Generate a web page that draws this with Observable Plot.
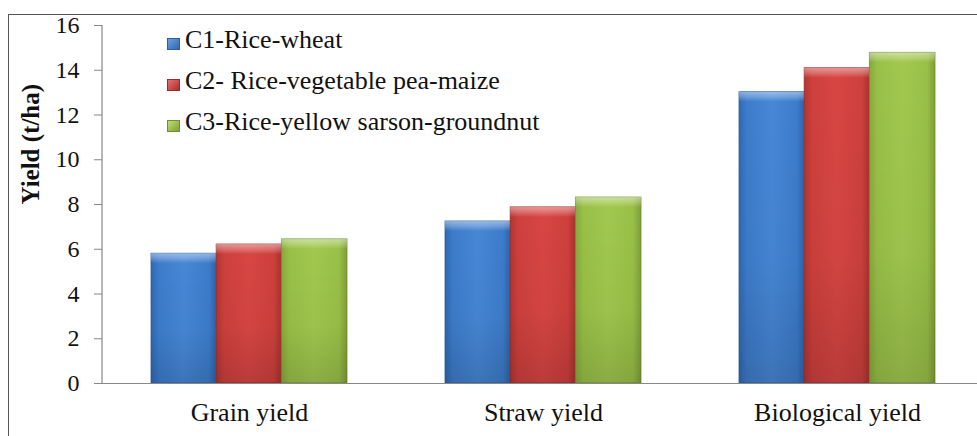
<!DOCTYPE html>
<html>
<head>
<meta charset="utf-8">
<script src="https://cdn.jsdelivr.net/npm/d3@7"></script>
<script src="https://cdn.jsdelivr.net/npm/@observablehq/plot@0.6"></script>
<style>
  html, body { margin: 0; padding: 0; background: #fff; overflow: hidden; }
  #wrap { position: relative; width: 977px; height: 436px; }
  #border { position: absolute; left: 8px; top: 14px; width: 1200px; height: 800px;
            border: 1.5px solid #555; box-sizing: border-box; pointer-events: none; z-index: 2; }
  #legend { position: absolute; left: 167px; top: 19px; z-index: 3;
            font-family: "Liberation Serif", "Times New Roman", serif;
            font-size: 26px; color: #111; }
  #legend .row { height: 41px; line-height: 41px; white-space: nowrap; }
  #legend .sw { display: inline-block; width: 13px; height: 12px; margin-right: 5px;
                vertical-align: -2px; box-sizing: border-box; }
  svg { position: absolute; left: 0; top: 0; }
</style>
</head>
<body>
<div id="wrap"><div id="border"></div><div id="legend"></div></div>
<script>
// ---- data ----
const categories = ["Grain yield", "Straw yield", "Biological yield"];
const seriesNames = ["C1-Rice-wheat", "C2- Rice-vegetable pea-maize", "C3-Rice-yellow sarson-groundnut"];
const c1Values = [5.8, 7.24, 13.02];
const c2Values = [6.21, 7.87, 14.09];
const c3Values = [6.44, 8.31, 14.78];
const yTicks = [0, 2, 4, 6, 8, 10, 12, 14, 16];
const yLabel = "Yield (t/ha)";

const seriesValues = [c1Values, c2Values, c3Values];
const gradIds = ["gBlue", "gRed", "gGreen"];
const strokes = ["#2c5f9e", "#9a2c2a", "#6f8f30"];
const swatch = ["linear-gradient(135deg,#6aa0e0,#2f69b3)", "linear-gradient(135deg,#e8706c,#a92f2c)",
                "linear-gradient(135deg,#bfe070,#7f9f38)"];

const data = [];
seriesValues.forEach((vals, si) => vals.forEach((v, ci) =>
  data.push({category: categories[ci], series: si, value: v})));

const W = 977, H = 436;
const xRange = [102, 984];
const padIn = 0.335, padOut = padIn / 2;
const bw = d3.scaleBand().domain(categories).range(xRange)
  .paddingInner(padIn).paddingOuter(padOut).bandwidth();
const sub = bw / 3;

const serifFont = "'Liberation Serif', 'Times New Roman', serif";

const barMarks = [];
seriesValues.forEach((vals, si) => {
  const d = data.filter(r => r.series === si);
  const opts = {x: "category", insetLeft: si * sub, insetRight: (2 - si) * sub};
  barMarks.push(Plot.barY(d, {...opts, y: "value", fill: `url(#${gradIds[si]})`,
    stroke: strokes[si], strokeWidth: 0.8}));
  barMarks.push(Plot.barY(d, {...opts, y: "value", fill: "url(#gShade)"}));
  barMarks.push(Plot.barY(d, {...opts, y1: r => r.value - 0.45, y2: "value",
    fill: "url(#gTop)"}));
});

const chart = Plot.plot({
  width: W, height: H,
  marginLeft: xRange[0], marginRight: 0, marginTop: 25, marginBottom: 53,
  style: {fontFamily: serifFont, color: "#111", background: "transparent"},
  x: {domain: categories, range: xRange, paddingInner: padIn, paddingOuter: padOut, label: null},
  y: {domain: [0, 16], label: null},
  marks: [
    ...barMarks,
    Plot.axisY({ticks: yTicks, tickSize: 8, tickPadding: 15, fontSize: 24, stroke: "#888",
      fill: "#111", tickFormat: d => String(d), label: null}),
    Plot.axisX({tickSize: 0, tickPadding: 19, fontSize: 26, fill: "#111", label: null}),
    Plot.ruleY([0], {stroke: "#888", strokeWidth: 1.2}),
    Plot.text([yLabel], {frameAnchor: "left", dx: -72, rotate: -90, fontSize: 25,
      fontWeight: "bold", fill: "#111", text: d => d})
  ]
});

// y-axis line drawn from the y scale
const ys = chart.scale("y");
const svgSel = d3.select(chart);
svgSel.append("line")
  .attr("x1", xRange[0]).attr("x2", xRange[0])
  .attr("y1", ys.apply(16)).attr("y2", ys.apply(0))
  .attr("stroke", "#888").attr("stroke-width", 1.2);

svgSel.insert("defs", ":first-child").html(`
  <linearGradient id="gBlue" x1="0" x2="1" y1="0" y2="0">
    <stop offset="0" stop-color="#2f69b3"/><stop offset="0.12" stop-color="#3d7ccb"/>
    <stop offset="0.5" stop-color="#4787d6"/><stop offset="0.88" stop-color="#3d7ccb"/>
    <stop offset="1" stop-color="#2d63a8"/></linearGradient>
  <linearGradient id="gRed" x1="0" x2="1" y1="0" y2="0">
    <stop offset="0" stop-color="#b53430"/><stop offset="0.12" stop-color="#cd403d"/>
    <stop offset="0.5" stop-color="#d84643"/><stop offset="0.88" stop-color="#cd403d"/>
    <stop offset="1" stop-color="#a92f2c"/></linearGradient>
  <linearGradient id="gGreen" x1="0" x2="1" y1="0" y2="0">
    <stop offset="0" stop-color="#86aa3c"/><stop offset="0.12" stop-color="#99c047"/>
    <stop offset="0.5" stop-color="#a2c84f"/><stop offset="0.88" stop-color="#99c047"/>
    <stop offset="1" stop-color="#7f9f38"/></linearGradient>
  <linearGradient id="gShade" x1="0" x2="0" y1="0" y2="1">
    <stop offset="0" stop-color="#000" stop-opacity="0"/>
    <stop offset="0.6" stop-color="#000" stop-opacity="0.03"/>
    <stop offset="1" stop-color="#000" stop-opacity="0.14"/></linearGradient>
  <linearGradient id="gTop" x1="0" x2="0" y1="0" y2="1">
    <stop offset="0" stop-color="#fff" stop-opacity="0.45"/>
    <stop offset="0.5" stop-color="#fff" stop-opacity="0.25"/>
    <stop offset="1" stop-color="#fff" stop-opacity="0"/></linearGradient>
`);

document.getElementById("wrap").appendChild(chart);

const legend = document.getElementById("legend");
seriesNames.forEach((name, i) => {
  const row = document.createElement("div");
  row.className = "row";
  row.innerHTML = `<span class="sw" style="background:${swatch[i]};border:1px solid ${strokes[i]}"></span>${name}`;
  legend.appendChild(row);
});
</script>
</body>
</html>
